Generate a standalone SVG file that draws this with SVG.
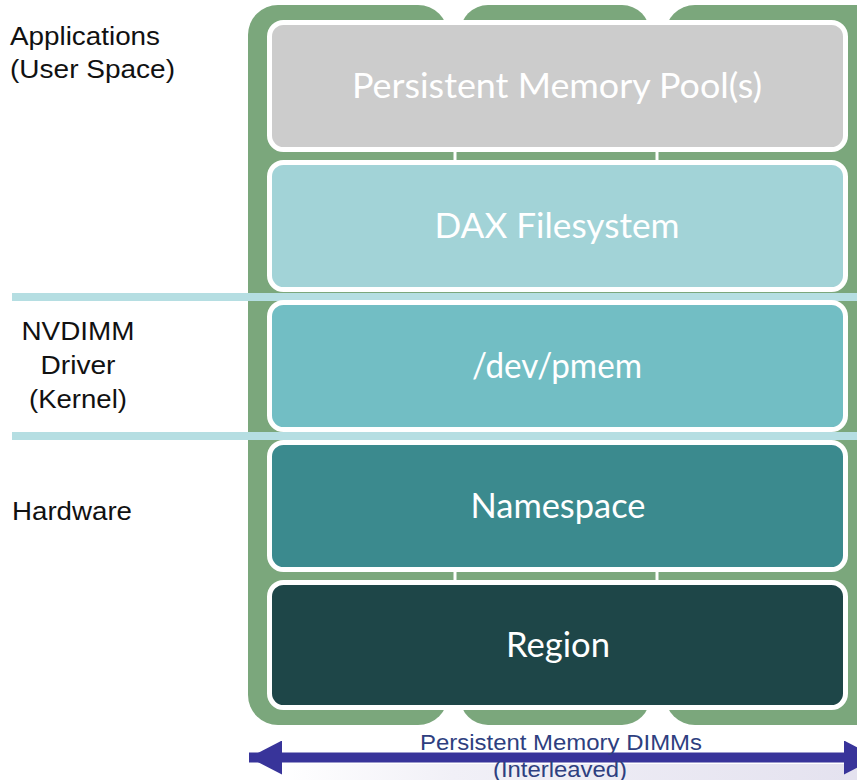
<svg xmlns="http://www.w3.org/2000/svg" width="857" height="780" viewBox="0 0 857 780">
<defs>
<style>
.lbl{font-family:"Liberation Sans",Arial,sans-serif;font-size:26px;fill:#111}
.box{stroke:#fff;stroke-width:5}
.bt{font-family:Lato,"Open Sans",sans-serif;font-size:34px;fill:#fff;text-anchor:middle}
.dimm{fill:#7ba77c}
.sep{stroke:#b5dee2;stroke-width:8}
.con{stroke:#fff;stroke-width:3}
.al{font-family:"Liberation Sans",Arial,sans-serif;font-size:22px;fill:#2e3f80;text-anchor:middle}
</style>
<linearGradient id="bg" x1="0" y1="0" x2="1" y2="0">
<stop offset="0" stop-color="#ffffff"/>
<stop offset="0.3" stop-color="#f1f0f7"/>
<stop offset="1" stop-color="#e4e2ef"/>
</linearGradient>
<marker id="ah" viewBox="0 0 33 34" refX="33" refY="17" markerWidth="33" markerHeight="34" orient="auto-start-reverse" markerUnits="userSpaceOnUse">
<path d="M0,0 L33,17 L0,34 z" fill="#38349a"/>
</marker>
</defs>
<rect x="0" y="0" width="857" height="780" fill="#fff"/>
<rect x="280" y="764" width="577" height="16" fill="url(#bg)"/>
<g id="dimms">
<rect class="dimm" x="248" y="5" width="200" height="720" rx="30"/>
<rect class="dimm" x="460" y="5" width="190" height="720" rx="28"/>
<rect class="dimm" x="665" y="5" width="220" height="720" rx="30"/>
<rect class="dimm" x="300" y="20" width="557" height="690"/>
</g>
<g id="separators">
<line class="sep" x1="12" y1="297" x2="857" y2="297"/>
<line class="sep" x1="12" y1="436" x2="857" y2="436"/>
</g>
<g id="connectors">
<line class="con" x1="455" y1="150" x2="455" y2="163"/>
<line class="con" x1="657" y1="150" x2="657" y2="163"/>
<line class="con" x1="455" y1="570" x2="455" y2="583"/>
<line class="con" x1="657" y1="570" x2="657" y2="583"/>
<line x1="249" y1="757.5" x2="877" y2="757.5" stroke="#38349a" stroke-width="10" marker-start="url(#ah)" marker-end="url(#ah)"/>
</g>
<g id="pool">
<rect class="box" x="269.5" y="22.5" width="576" height="127" rx="14" fill="#cccccc"/>
<text class="bt" x="557" y="98" textLength="410" lengthAdjust="spacingAndGlyphs">Persistent Memory Pool(s)</text>
</g>
<g id="dax">
<rect class="box" x="269.5" y="162.5" width="576" height="127" rx="14" fill="#a2d3d7"/>
<text class="bt" x="557" y="238" textLength="245" lengthAdjust="spacingAndGlyphs">DAX Filesystem</text>
</g>
<g id="pmem">
<rect class="box" x="269.5" y="302.5" width="576" height="127" rx="14" fill="#72bec4"/>
<text class="bt" x="557" y="378" textLength="170" lengthAdjust="spacingAndGlyphs">/dev/pmem</text>
</g>
<g id="namespace">
<rect class="box" x="269.5" y="442.5" width="576" height="127" rx="14" fill="#3b8a8e"/>
<text class="bt" x="558" y="518" textLength="175" lengthAdjust="spacingAndGlyphs">Namespace</text>
</g>
<g id="region">
<rect class="box" x="269.5" y="582.5" width="576" height="125" rx="14" fill="#1e4648"/>
<text class="bt" x="558" y="657" textLength="104" lengthAdjust="spacingAndGlyphs">Region</text>
</g>
<g id="labels">
<text class="lbl" x="10" y="45" textLength="150" lengthAdjust="spacingAndGlyphs">Applications</text>
<text class="lbl" x="10" y="78" textLength="165" lengthAdjust="spacingAndGlyphs">(User Space)</text>
<text class="lbl" x="78" y="340" text-anchor="middle" textLength="113" lengthAdjust="spacingAndGlyphs">NVDIMM</text>
<text class="lbl" x="78" y="374" text-anchor="middle" textLength="75" lengthAdjust="spacingAndGlyphs">Driver</text>
<text class="lbl" x="78" y="408" text-anchor="middle" textLength="98" lengthAdjust="spacingAndGlyphs">(Kernel)</text>
<text class="lbl" x="12" y="520" textLength="120" lengthAdjust="spacingAndGlyphs">Hardware</text>
</g>
<g id="dimm-label">
<text class="al" x="561" y="750" textLength="282" lengthAdjust="spacingAndGlyphs">Persistent Memory DIMMs</text>
<text class="al" x="560" y="777" textLength="134" lengthAdjust="spacingAndGlyphs">(Interleaved)</text>
</g>
</svg>
